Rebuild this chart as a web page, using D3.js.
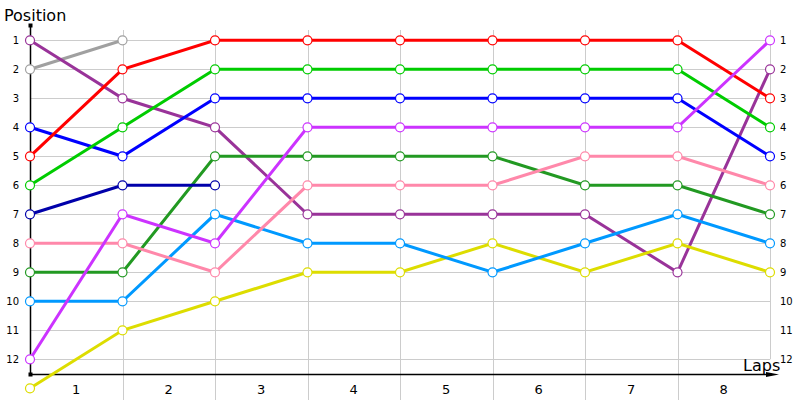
<!DOCTYPE html>
<html lang="en">
<head>
<meta charset="UTF-8">
<title>Lap chart</title>
<script src="https://d3js.org/d3.v7.min.js"></script>
<style>
    body { margin: 0; background: #fff; }
    .grid line { stroke: #cccccc; stroke-width: 1; }
    .tick text { font-family: "DejaVu Sans", sans-serif; font-size: 10px; fill: #000; }
    .lap text { font-family: "DejaVu Sans", sans-serif; font-size: 13px; }
    .title { font-family: "DejaVu Sans", sans-serif; font-size: 16px; }
    path.series { fill: none; stroke-width: 3; }
    circle { fill: white; stroke-width: 1.2; }
</style>
</head>
<body>
<script>
    var laps = [0, 1, 2, 3, 4, 5, 6, 7, 8];
    var lapLabels = ["1", "2", "3", "4", "5", "6", "7", "8"];
    var positions = [1, 2, 3, 4, 5, 6, 7, 8, 9, 10, 11, 12];

    // position of each driver at each lap (null = retired)
    var gray      = [2, 1];
    var purple    = [1, 3, 4, 7, 7, 7, 7, 9, 2];
    var red       = [5, 2, 1, 1, 1, 1, 1, 1, 3];
    var green     = [6, 4, 2, 2, 2, 2, 2, 2, 4];
    var blue      = [4, 5, 3, 3, 3, 3, 3, 3, 5];
    var darkBlue  = [7, 6, 6];
    var violet    = [12, 7, 8, 4, 4, 4, 4, 4, 1];
    var pink      = [8, 8, 9, 6, 6, 6, 5, 5, 6];
    var darkGreen = [9, 9, 5, 5, 5, 5, 6, 6, 7];
    var lightBlue = [10, 10, 7, 8, 8, 9, 8, 7, 8];
    var yellow    = [13, 11, 10, 9, 9, 8, 9, 8, 9];

    var series = [
        {values: gray, color: "#a0a0a0"},
        {values: purple, color: "#993399"},
        {values: yellow, color: "#dddd00"},
        {values: lightBlue, color: "#0099ff"},
        {values: darkGreen, color: "#229922"},
        {values: pink, color: "#ff88aa"},
        {values: darkBlue, color: "#0000aa"},
        {values: blue, color: "#0000ff"},
        {values: green, color: "#00cc00"},
        {values: red, color: "#ff0000"},
        {values: violet, color: "#cc33ff"}
    ];

    var width = 800, height = 400;
    var x = d3.scaleLinear().domain([0, 8]).range([30, 770]);
    var y = d3.scaleLinear().domain([1, 13]).range([40.3, 388.3]);

    var svg = d3.select("body").append("svg")
        .attr("width", width).attr("height", height);

    // grid
    var grid = svg.append("g").attr("class", "grid");
    grid.selectAll("line.h").data(positions).enter().append("line")
        .attr("class", "h")
        .attr("x1", x(0)).attr("x2", x(8))
        .attr("y1", function(d) { return Math.round(y(d)) + 0.5; })
        .attr("y2", function(d) { return Math.round(y(d)) + 0.5; });
    grid.selectAll("line.v").data(laps.slice(1)).enter().append("line")
        .attr("class", "v")
        .attr("x1", function(d) { return Math.round(x(d)) + 0.5; })
        .attr("x2", function(d) { return Math.round(x(d)) + 0.5; })
        .attr("y1", 30)
        .attr("y2", function(d) { return d === 8 ? y(12) : 400; });

    // axes lines
    var yBase = y(12.5);
    svg.append("line")
        .attr("x1", x(0) + 0.5).attr("x2", x(0) + 0.5)
        .attr("y1", 25).attr("y2", yBase)
        .attr("stroke", "#000").attr("stroke-width", 1.5);
    svg.append("line")
        .attr("x1", x(0)).attr("x2", 772)
        .attr("y1", Math.round(yBase) + 0.5).attr("y2", Math.round(yBase) + 0.5)
        .attr("stroke", "#000").attr("stroke-width", 1.5);
    svg.append("path")
        .attr("d", "M766," + (Math.round(yBase) - 2) + " L779," + (Math.round(yBase) + 0.5) +
            " L766," + (Math.round(yBase) + 3) + " Z")
        .attr("fill", "#000");
    svg.append("rect").attr("x", x(0) - 1.5).attr("y", 23.5).attr("width", 4).attr("height", 4).attr("fill", "#000");
    svg.append("rect").attr("x", x(0) - 1.5).attr("y", Math.round(yBase) - 1.5).attr("width", 4).attr("height", 4).attr("fill", "#000");

    // tick labels
    var left = svg.append("g").attr("transform", "translate(" + (x(0) - 8) + ",0)")
        .call(d3.axisLeft(y).tickValues(positions).tickSize(0).tickFormat(d3.format("d")));
    left.select(".domain").remove();
    var right = svg.append("g").attr("transform", "translate(" + (x(8) + 7) + ",0)")
        .call(d3.axisRight(y).tickValues(positions).tickSize(0).tickFormat(d3.format("d")));
    right.select(".domain").remove();

    svg.append("g").attr("class", "lap").selectAll("text").data(lapLabels).enter().append("text")
        .attr("x", function(d, i) { return x(i + 0.5); })
        .attr("y", 394)
        .attr("text-anchor", "middle")
        .text(function(d) { return d; });

    svg.append("text").attr("class", "title").attr("x", 4).attr("y", 21).text("Position");
    svg.append("text").attr("class", "title").attr("x", 743).attr("y", 371).text("Laps");

    // lines and markers
    var line = d3.line()
        .x(function(d, i) { return x(i); })
        .y(function(d) { return y(d); });

    svg.append("g").selectAll("path").data(series).enter().append("path")
        .attr("class", "series")
        .attr("stroke", function(d) { return d.color; })
        .attr("d", function(d) { return line(d.values); });

    var marks = svg.append("g");
    series.forEach(function(s) {
        marks.selectAll(null).data(s.values).enter().append("circle")
            .attr("cx", function(d, i) { return x(i); })
            .attr("cy", function(d) { return y(d); })
            .attr("r", 4.5)
            .attr("stroke", s.color);
    });
</script>
</body>
</html>
